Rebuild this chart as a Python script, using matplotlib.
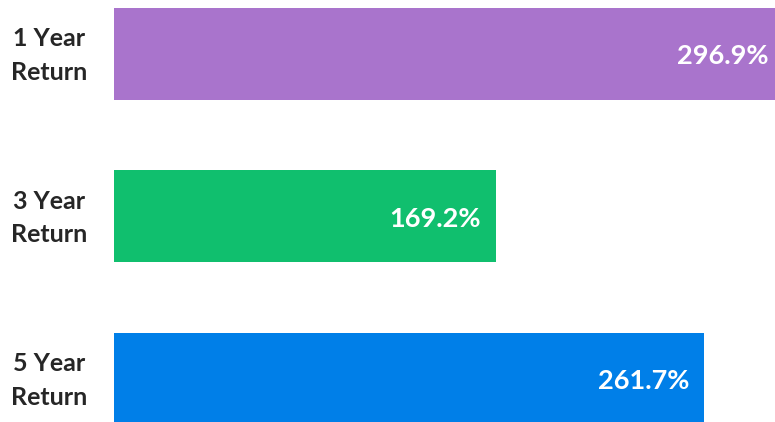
import matplotlib.pyplot as plt
from matplotlib.transforms import blended_transform_factory

categories = ["1 Year\nReturn", "3 Year\nReturn", "5 Year\nReturn"]
returns = [296.9, 169.2, 261.7]
colors = ["#A974CC", "#10BF6E", "#007FE8"]

plt.rcParams['font.family'] = ['Lato', 'DejaVu Sans']

fig = plt.figure(figsize=(7.75, 4.22), dpi=100)
ax = fig.add_axes([114 / 775, 0, 1 - 114 / 775, 1])

pos = list(range(len(categories)))
ax.barh(pos, returns, height=0.566, color=colors)

# value labels sit just inside the end of each bar
for y, v in zip(pos, returns):
    ax.annotate(f"{v:.1f}%", xy=(v, y), xytext=(-11, -1.5), textcoords="offset points",
                ha="right", va="center", color="white", fontsize=19.5, fontweight="bold",
                annotation_clip=False)

# category names centred in the left margin
trans = blended_transform_factory(fig.transFigure, ax.transData)
for y, name in zip(pos, categories):
    ax.annotate(name, xy=(49 / 775, y), xycoords=trans, xytext=(0, -1),
                textcoords="offset points", ha="center", va="center",
                fontsize=18, fontweight="bold", color="#262626", linespacing=1.55)

ax.set_xlim(0, 293)
ax.set_ylim(2.265, -0.332)
ax.set_xticks([])
ax.set_yticks([])
for s in ax.spines.values():
    s.set_visible(False)

plt.savefig("out.png", dpi=100)
